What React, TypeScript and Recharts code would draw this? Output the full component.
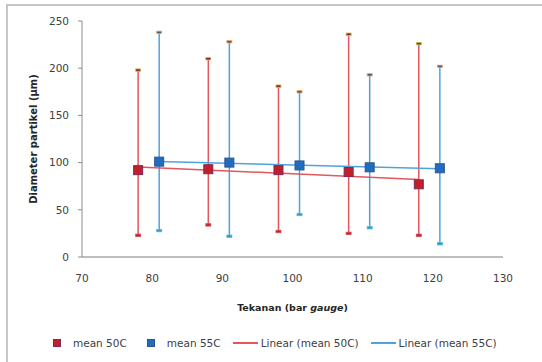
import { ScatterChart, Scatter, XAxis, YAxis, ErrorBar, Legend } from 'recharts'

const pressure50 = [78, 88, 98, 108, 118]
const mean50 = [92, 93, 92, 90, 77]
const max50 = [198, 210, 181, 236, 226]
const min50 = [23, 34, 27, 25, 23]

const pressure55 = [81, 91, 101, 111, 121]
const mean55 = [101, 100, 97, 95, 94]
const max55 = [238, 228, 175, 193, 202]
const min55 = [28, 22, 45, 31, 14]

const xTicks = [70, 80, 90, 100, 110, 120, 130]
const yTicks = [0, 50, 100, 150, 200, 250]

const FONT = '"DejaVu Sans", Verdana, sans-serif'
const RED = '#c41e2a'
const BLUE = '#1f6dbf'
const RED_LINE = '#e2575c'
const BLUE_LINE = '#4fa3dd'

const points = (xs: number[], ys: number[], lo: number[], hi: number[]) =>
  xs.map((x, i) => ({ x, y: ys[i], err: [ys[i] - lo[i], hi[i] - ys[i]] }))

const caps = (xs: number[], ys: number[]) => xs.map((x, i) => ({ x, y: ys[i] }))

// least squares trendline, like excel's "Linear (...)"
const trend = (xs: number[], ys: number[]) => {
  const n = xs.length
  const mx = xs.reduce((a, b) => a + b, 0) / n
  const my = ys.reduce((a, b) => a + b, 0) / n
  let num = 0
  let den = 0
  xs.forEach((x, i) => {
    num += (x - mx) * (ys[i] - my)
    den += (x - mx) * (x - mx)
  })
  const slope = num / den
  const x0 = Math.min(...xs)
  const x1 = Math.max(...xs)
  return [
    { x: x0, y: my + slope * (x0 - mx) },
    { x: x1, y: my + slope * (x1 - mx) },
  ]
}

const data50 = points(pressure50, mean50, min50, max50)
const data55 = points(pressure55, mean55, min55, max55)

const squareShape = (fill: string, stroke: string) => (p: any) => (
  <rect x={p.cx - 4.5} y={p.cy - 4.5} width={9} height={9} fill={fill} stroke={stroke} strokeWidth={1} />
)

const capShape = (fill: string, stroke: string) => (p: any) => (
  <rect x={p.cx - 2.5} y={p.cy - 1.2} width={5} height={2.4} fill={fill} stroke={stroke} strokeWidth={0.8} />
)

const noShape = () => <g />

const legendItems = [
  { label: 'mean 50C', kind: 'square', color: RED, border: '#7d2a55' },
  { label: 'mean 55C', kind: 'square', color: BLUE, border: '#34528a' },
  { label: 'Linear (mean 50C)', kind: 'line', color: RED_LINE },
  { label: 'Linear (mean 55C)', kind: 'line', color: BLUE_LINE },
]

const LegendContent = () => (
  <div
    style={{
      display: 'flex',
      justifyContent: 'flex-start',
      alignItems: 'center',
      height: 20,
      width: 542,
      fontFamily: FONT,
      fontSize: 10.5,
      color: '#404040',
      paddingLeft: 53,
      boxSizing: 'border-box',
      whiteSpace: 'nowrap',
    }}
  >
    {legendItems.map((it, i) => (
      <div
        key={it.label}
        style={{ display: 'flex', alignItems: 'center', flexShrink: 0, marginRight: i === 0 ? 20 : 12 }}
      >
        {it.kind === 'square' ? (
          <span
            style={{
              width: 6,
              height: 6,
              background: it.color,
              border: `1px solid ${it.border}`,
              marginRight: 12,
            }}
          />
        ) : (
          <span style={{ width: 25, height: 1.5, background: it.color, marginRight: 3 }} />
        )}
        <span>{it.label}</span>
      </div>
    ))}
  </div>
)

export default function App() {
  return (
    <div style={{ position: 'absolute', left: 0, top: 0, width: 542, height: 362, background: '#fff' }}>
      <div
        style={{
          position: 'absolute',
          left: 6,
          top: 4,
          width: 560,
          height: 380,
          border: '2px solid #c6c6c6',
        }}
      />
      <ScatterChart width={542} height={362} margin={{ top: 21, right: 39, left: 0, bottom: 9 }}>
        <XAxis
          type="number"
          dataKey="x"
          domain={[70, 130]}
          ticks={xTicks}
          height={76}
          tickLine={false}
          tickSize={6}
          tickMargin={12}
          axisLine={{ stroke: '#a8a8a8', strokeWidth: 1.5 }}
          tick={{ fontSize: 10.5, fill: '#404040', fontFamily: FONT }}
          label={{
            content: ({ viewBox }: any) => (
              <text
                x={viewBox.x + viewBox.width / 2}
                y={viewBox.y + 54}
                textAnchor="middle"
                fontFamily={FONT}
                fontSize={9.5}
                fontWeight="bold"
                fill="#262626"
              >
                Tekanan (bar <tspan fontStyle="italic">gauge</tspan>)
              </text>
            ),
          }}
        />
        <YAxis
          type="number"
          dataKey="y"
          domain={[0, 250]}
          ticks={yTicks}
          width={82}
          tickSize={4}
          tickMargin={9}
          axisLine={{ stroke: '#8c8c8c' }}
          tickLine={{ stroke: '#8c8c8c' }}
          tick={{ fontSize: 10.5, fill: '#404040', fontFamily: FONT }}
          label={{
            content: ({ viewBox }: any) => {
              const cy = viewBox.y + viewBox.height / 2
              return (
                <text
                  x={37}
                  y={cy}
                  transform={`rotate(-90 37 ${cy})`}
                  textAnchor="middle"
                  fontFamily={FONT}
                  fontSize={10}
                  fontWeight="bold"
                  fill="#262626"
                >
                  Diameter partikel (µm)
                </text>
              )
            },
          }}
        />
        <Legend verticalAlign="bottom" content={<LegendContent />} />

        <Scatter
          name="Linear (mean 50C)"
          data={trend(pressure50, mean50)}
          line={{ stroke: RED_LINE, strokeWidth: 1.5 }}
          shape={noShape}
          isAnimationActive={false}
        />
        <Scatter
          name="Linear (mean 55C)"
          data={trend(pressure55, mean55)}
          line={{ stroke: BLUE_LINE, strokeWidth: 1.5 }}
          shape={noShape}
          isAnimationActive={false}
        />

        <Scatter name="mean 50C" data={data50} shape={squareShape(RED, '#7d2a55')} isAnimationActive={false}>
          <ErrorBar dataKey="err" direction="y" width={0} stroke={RED_LINE} strokeWidth={1.5} isAnimationActive={false} />
        </Scatter>
        <Scatter name="mean 55C" data={data55} shape={squareShape(BLUE, '#34528a')} isAnimationActive={false}>
          <ErrorBar dataKey="err" direction="y" width={0} stroke={BLUE_LINE} strokeWidth={1.5} isAnimationActive={false} />
        </Scatter>

        <Scatter data={caps(pressure50, max50)} shape={capShape('#9b1b1b', '#b9c86a')} isAnimationActive={false} />
        <Scatter data={caps(pressure50, min50)} shape={capShape('#c8202c', '#d24a50')} isAnimationActive={false} />
        <Scatter data={caps(pressure55, max55)} shape={capShape('#4b5a70', '#f0a868')} isAnimationActive={false} />
        <Scatter data={caps(pressure55, min55)} shape={capShape('#2f9cc6', '#5ab3d6')} isAnimationActive={false} />
      </ScatterChart>
    </div>
  )
}
